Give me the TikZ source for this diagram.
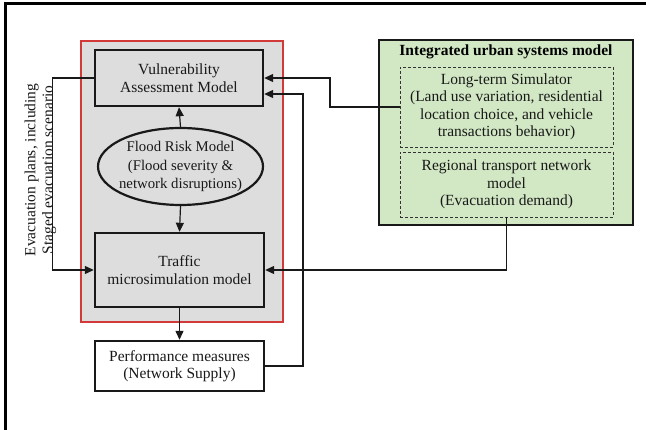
\documentclass[tikz,border=0pt]{standalone}
\usepackage{fontspec}
\setmainfont{Liberation Serif}
\usepackage{tikz}
\usetikzlibrary{arrows.meta,shapes.geometric}
\definecolor{framegray}{HTML}{DDDDDD}
\definecolor{framered}{HTML}{D23A3A}
\definecolor{urbangreen}{HTML}{D2E8C4}
\tikzset{
	modelbox/.style={draw=black!90, line width=2.4pt, fill=framegray, align=center, inner sep=2pt},
	subbox/.style={draw=black!80, densely dashed, line width=0.8pt, align=center, inner sep=2pt},
	arr/.style={-{Triangle[length=9pt,width=8pt]}, line width=1.2pt, draw=black!90},
	txt/.style={font=\fontsize{15.5}{17.5}\selectfont, text=black!90}
}

\begin{document}
\begin{tikzpicture}[x=1pt, y=-1pt]
		%%%%% START %%%%%
		\useasboundingbox (0, 0) rectangle (646, 430);
		
		\draw[line width=3pt] (5, 430) -- (5, 4) -- (646, 4);
		
		\draw[draw=framered, line width=1.1pt, fill=framegray] (81, 41) rectangle (283, 322);
		
		\node[modelbox, txt, minimum width=168pt, minimum height=56pt] (vuln) at (179, 78) {Vulnerability\\Assessment Model};
		\node[modelbox, ellipse, line width=2.2pt, minimum width=165pt, minimum height=77pt, inner sep=0pt,
			label={[txt, font=\fontsize{14.8}{18.5}\selectfont, align=center]center:{Flood Risk Model\\(Flood severity \&\\network disruptions)}}] (flood) at (180.5, 166.5) {};
		\node[modelbox, txt, minimum width=169pt, minimum height=74pt] (traffic) at (179.5, 270) {Traffic\\microsimulation model};
		\node[modelbox, txt, fill=white, minimum width=169pt, minimum height=50pt] (perf) at (179.5, 366) {Performance measures\\(Network Supply)};
		
		\draw[draw=black!90, line width=2.4pt, fill=urbangreen] (379, 40) rectangle (633, 225);
		\node[txt, font=\fontsize{15.5}{17.5}\selectfont\bfseries, text=black] (urban) at (506, 52) {Integrated urban systems model};
		\node[subbox, txt, minimum width=213pt, minimum height=80pt] (ltsim) at (506.5, 107) {Long-term Simulator\\(Land use variation, residential\\location choice, and vehicle\\transactions behavior)};
		\node[subbox, txt, minimum width=213pt, minimum height=65pt] (regional) at (506.5, 184.5) {Regional transport network\\model\\(Evacuation demand)};
		
		\node[txt, rotate=90, align=center] (evac) at (40.5, 170) {Evacuation plans, including\\Staged evacuation scenario};
		
		\coordinate (fb) at (303, 94);
		\coordinate (lj) at (330, 107);
		
		\draw[arr] (flood.north) -- (vuln.south);
		\draw[arr] (flood.south) -- (traffic.north);
		\draw[arr] (traffic.south) -- (perf.north);
		\draw[arr] (perf.east) -| (fb) -- (fb -| vuln.east);
		\draw[arr] (ltsim.west) -- (lj) |- (vuln.east);
		\draw[arr] (regional.south) |- (traffic.east);
		\draw[arr] (vuln.west) -- ++(-41, 0) |- (traffic.west);
		
		%%%%% END %%%%%
	\end{tikzpicture}
\end{document}
